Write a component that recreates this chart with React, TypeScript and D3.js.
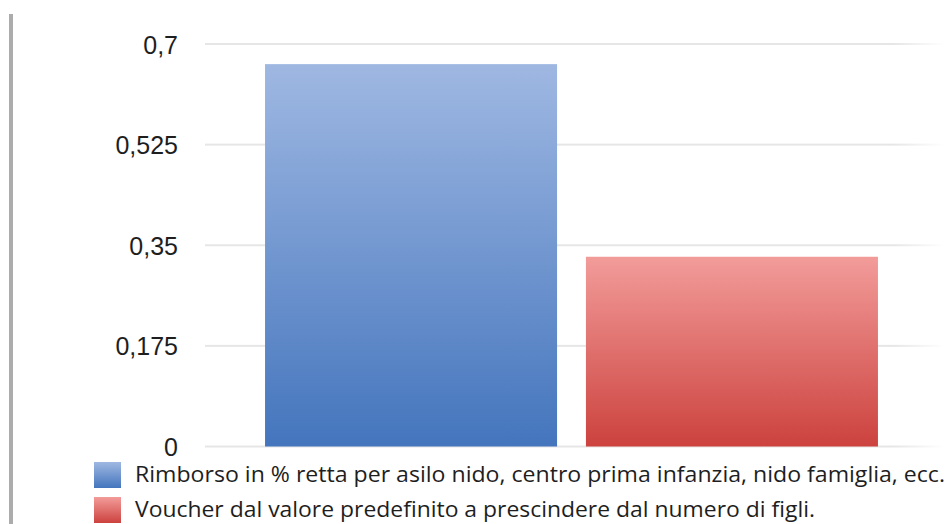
import React from "react";
import * as d3 from "d3";

const categories = ["Rimborso", "Voucher"];
const values = [0.665, 0.33];
const tickValues = [0, 0.175, 0.35, 0.525, 0.7];
const tickLabels = ["0", "0,175", "0,35", "0,525", "0,7"];
const legendLabels = [
  "Rimborso in % retta per asilo nido, centro prima infanzia, nido famiglia, ecc.",
  "Voucher dal valore predefinito a prescindere dal numero di figli.",
];
const gradTop = ["#9fb8e2", "#f29c9a"];
const gradBottom = ["#4475bd", "#cc423e"];

const W = 949;
const H = 524;

export default function App() {
  const y = d3.scaleLinear().domain([0, 0.7]).range([446.5, 44]);
  const x = d3
    .scaleBand<string>()
    .domain(categories)
    .range([250.6, 892.4])
    .paddingInner(0.09)
    .paddingOuter(0.045);

  return (
    <svg
      width={W}
      height={H}
      style={{ position: "absolute", left: 0, top: 0, background: "#fff" }}
      xmlns="http://www.w3.org/2000/svg"
    >
      <defs>
        {categories.map((c, i) => (
          <linearGradient key={c} id={`g${i}`} x1="0" y1="0" x2="0" y2="1">
            <stop offset="0%" stopColor={gradTop[i]} />
            <stop offset="100%" stopColor={gradBottom[i]} />
          </linearGradient>
        ))}
        <linearGradient id="gridFade" x1="0" y1="0" x2="1" y2="0" gradientUnits="objectBoundingBox">
          <stop offset="0%" stopColor="#e6e6e6" />
          <stop offset="93%" stopColor="#e6e6e6" />
          <stop offset="100%" stopColor="#ffffff" />
        </linearGradient>
      </defs>

      <rect x={9} y={14} width={4} height={H - 14} fill="#acacac" />

      {tickValues.map((t, i) => (
        <g key={t}>
          <rect x={205} y={y(t) - 1} width={740} height={2} fill="url(#gridFade)" />
          <text
            x={178}
            y={y(t) + 3}
            textAnchor="end"
            dominantBaseline="middle"
            fontFamily="'Liberation Sans', Arial, sans-serif"
            fontSize={25}
            fill="#1e1e1e"
          >
            {tickLabels[i]}
          </text>
        </g>
      ))}

      {categories.map((c, i) => (
        <rect
          key={c}
          x={x(c)}
          y={y(values[i])}
          width={x.bandwidth()}
          height={y(0) - y(values[i])}
          fill={`url(#g${i})`}
        />
      ))}

      {legendLabels.map((l, i) => (
        <g key={l}>
          <rect x={94} y={462 + i * 35} width={27} height={26} fill={`url(#g${i})`} />
          <text
            x={135}
            y={476 + i * 35}
            dominantBaseline="middle"
            fontFamily="'Open Sans', 'Noto Sans', sans-serif"
            fontSize={21}
            fill="#1e1e1e"
            textLength={i === 0 ? 810 : 680}
            lengthAdjust="spacingAndGlyphs"
          >
            {l}
          </text>
        </g>
      ))}
    </svg>
  );
}
